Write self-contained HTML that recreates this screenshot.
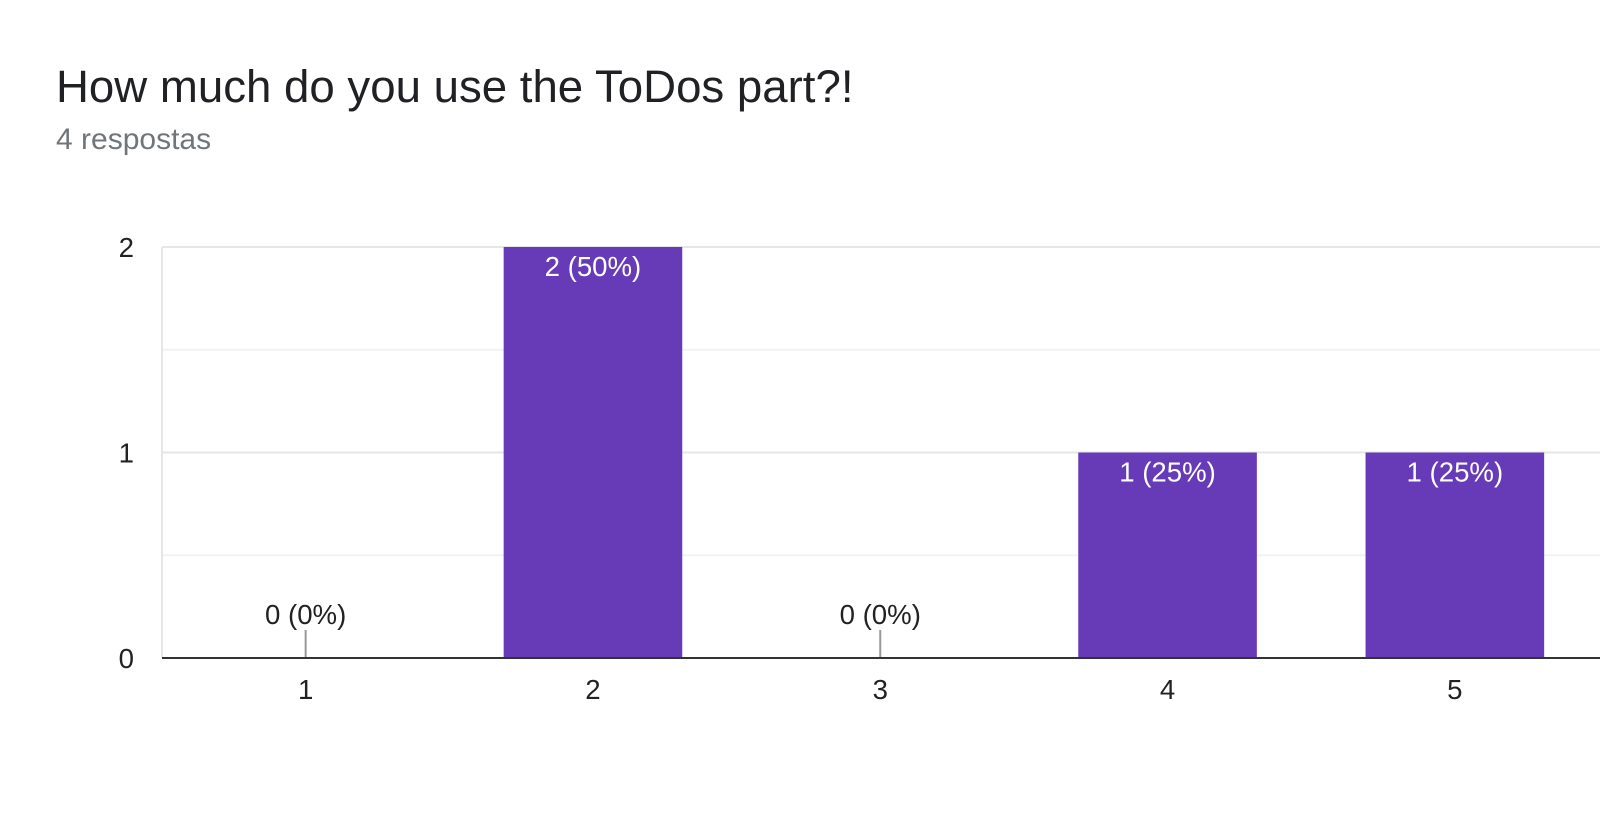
<!DOCTYPE html>
<html><head><meta charset="utf-8"><style>
body{margin:0;background:#fff;width:1600px;height:830px;overflow:hidden;font-family:"Liberation Sans",Arial,sans-serif}
#title{position:absolute;left:56px;top:61px;font-size:45.6px;color:#202124}
#sub{position:absolute;left:56px;top:123px;font-size:30px;color:#70757a}
svg{position:absolute;left:0;top:0}
</style></head><body>
<div id="title">How much do you use the ToDos part?!</div>
<div id="sub">4 respostas</div>
<svg id="chart" width="1600" height="830"></svg>
<script>
const categories=["1","2","3","4","5"];
const counts=[0,2,0,1,1];
const labels=["0 (0%)","2 (50%)","0 (0%)","1 (25%)","1 (25%)"];
const yTicks=[0,1,2];
const svg=document.getElementById('chart');
const NS='http://www.w3.org/2000/svg';
const L=162,R=1600,B=658,T=247,yMax=2,step=287.3,bw=178.6,FS=27.6;
const y=v=>B-(v/yMax)*(B-T);
const x=i=>L+step*(i+0.5);
function mk(t,a){const e=document.createElementNS(NS,t);for(const k in a)e.setAttribute(k,a[k]);svg.appendChild(e);return e;}
for(let v=0.5;v<=yMax;v+=0.5){
 const g=mk('line',{x1:L,x2:R,y1:y(v),y2:y(v),stroke:Number.isInteger(v)?'#e6e6e6':'#f2f2f2','stroke-width':2});
 
 
}
const lv=mk('line',{x1:L,x2:L,y1:T,y2:B,stroke:'#e6e6e6','stroke-width':2});


yTicks.forEach(v=>{
 const t=mk('text',{x:134,y:y(v)+10,'text-anchor':'end','font-size':FS,fill:'#222'});t.textContent=v;
 
 
});
categories.forEach((c,i)=>{
 const cx=x(i);
 if(counts[i]>0){
  const r=mk('rect',{x:cx-bw/2,y:y(counts[i]),width:bw,height:B-y(counts[i]),fill:'#673ab7'});
  
  
  const t=mk('text',{x:cx,y:y(counts[i])+29,'text-anchor':'middle','font-size':FS,fill:'#fff'});t.textContent=labels[i];
  
  
 }else{
  const s=mk('line',{x1:cx,x2:cx,y1:B-28,y2:B,stroke:'#999','stroke-width':2});
  
  
  const t=mk('text',{x:cx,y:B-34,'text-anchor':'middle','font-size':FS,fill:'#222'});t.textContent=labels[i];
  
  
 }
 const xl=mk('text',{x:cx,y:B+41,'text-anchor':'middle','font-size':FS,fill:'#222'});xl.textContent=c;
 
 
});
const base=mk('line',{x1:L,x2:R,y1:B,y2:B,stroke:'#333','stroke-width':2});


</script>
</body></html>
